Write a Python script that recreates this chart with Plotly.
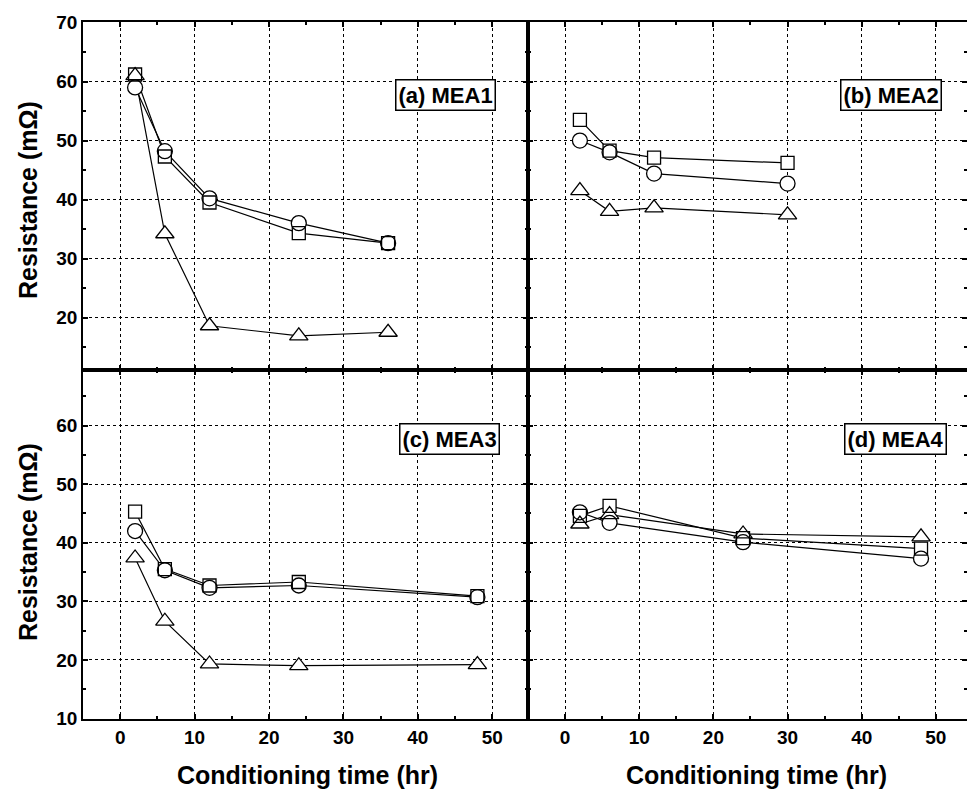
import plotly.graph_objects as go

# ---------------- data ----------------
time_a = [2, 6, 12, 24, 36]
a_square = [61.2, 47.3, 39.5, 34.3, 32.6]
a_circle = [59.0, 48.2, 40.2, 36.0, 32.6]
a_triangle = [61.0, 34.2, 18.6, 16.9, 17.5]

time_b = [2, 6, 12, 30]
b_square = [53.5, 48.3, 47.1, 46.2]
b_circle = [50.0, 48.0, 44.4, 42.7]
b_triangle = [41.5, 38.0, 38.6, 37.4]

time_c = [2, 6, 12, 24, 48]
c_square = [45.3, 35.5, 32.7, 33.3, 30.9]
c_circle = [42.0, 35.3, 32.3, 32.7, 30.7]
c_triangle = [37.4, 26.6, 19.3, 19.0, 19.2]

time_d = [2, 6, 24, 48]
d_square = [44.6, 46.3, 40.8, 39.0]
d_circle = [45.2, 43.4, 40.1, 37.3]
d_triangle = [43.2, 44.8, 41.5, 41.0]

panel_labels = ["(a) MEA1", "(b) MEA2", "(c) MEA3", "(d) MEA4"]
x_title = "Conditioning time (hr)"
y_title = "Resistance (mΩ)"

panels = [
    (time_a, a_square, a_circle, a_triangle),
    (time_b, b_square, b_circle, b_triangle),
    (time_c, c_square, c_circle, c_triangle),
    (time_d, d_square, d_circle, d_triangle),
]

symbols = ["square", "circle", "triangle-up"]
sizes = [13, 15, 16]

fig = go.Figure()
for i, (t, sq, ci, tr) in enumerate(panels):
    ax = "" if i == 0 else str(i + 1)
    series = [sq, ci, tr]
    for s in series:
        fig.add_trace(go.Scatter(x=t, y=s, mode="lines", line=dict(color="black", width=1.2),
                                 xaxis="x" + ax, yaxis="y" + ax, showlegend=False, hoverinfo="skip"))
    for s, sym, sz in zip(series, symbols, sizes):
        fig.add_trace(go.Scatter(x=t, y=s, mode="markers",
                                 marker=dict(symbol=sym, size=sz, color="white", line=dict(width=0)),
                                 xaxis="x" + ax, yaxis="y" + ax, showlegend=False, hoverinfo="skip"))
    for s, sym, sz in zip(series, symbols, sizes):
        fig.add_trace(go.Scatter(x=t, y=s, mode="markers",
                                 marker=dict(symbol=sym + "-open", size=sz, color="black",
                                             line=dict(width=1.3, color="black")),
                                 xaxis="x" + ax, yaxis="y" + ax, showlegend=False))

W, H = 967, 789
xl0, xm, xr = 83 / W, 528 / W, 1.0
yt, ym, yb = 1 - 22 / H, 1 - 370 / H, 1 - 719 / H

FONT = "Arial, Liberation Sans, sans-serif"
tickfont = dict(family=FONT, size=19, color="black", weight="bold")

def axis(domain, rng, anchor, labels):
    return dict(domain=domain, range=rng, anchor=anchor, dtick=10, tick0=0,
                showline=True, linewidth=1.6, linecolor="black", mirror="allticks",
                ticks="inside", ticklen=5, tickwidth=1.5, tickcolor="black",
                minor=dict(dtick=5, tick0=0, ticks="inside", ticklen=3, tickcolor="black", showgrid=False),
                showgrid=True, gridcolor="black", griddash="dot", gridwidth=1,
                zeroline=False, showticklabels=labels, tickfont=tickfont, automargin=False)

left_rng = [-5, 54.8]
right_rng = [-5, 54.2]
top_rng = [11.1, 70.1]
bot_rng = [9.9, 69.5]

fig.update_layout(
    width=W, height=H, margin=dict(l=0, r=0, t=0, b=0),
    paper_bgcolor="white", plot_bgcolor="white",
    xaxis=axis([xl0, xm], left_rng, "y", False),
    yaxis=axis([ym, yt], top_rng, "x", True),
    xaxis2=axis([xm, xr], right_rng, "y2", False),
    yaxis2=axis([ym, yt], top_rng, "x2", False),
    xaxis3=axis([xl0, xm], left_rng, "y3", True),
    yaxis3=axis([yb, ym], bot_rng, "x3", True),
    xaxis4=axis([xm, xr], right_rng, "y4", True),
    yaxis4=axis([yb, ym], bot_rng, "x4", False),
)

label_pos = [(445.5, 95), (891, 95), (449, 438.5), (895, 439)]
annotations = []
for txt, (px, py) in zip(panel_labels, label_pos):
    annotations.append(dict(text=txt, x=px / W, y=1 - py / H, xref="paper", yref="paper",
                            showarrow=False, xanchor="center", yanchor="middle",
                            font=dict(family=FONT, size=22, color="black", weight="bold"),
                            bordercolor="black", borderwidth=1.5, borderpad=2, bgcolor="white"))
for px in (307, 756):
    annotations.append(dict(text=x_title, x=px / W, y=1 - 775 / H, xref="paper", yref="paper",
                            showarrow=False, xanchor="center", yanchor="middle",
                            font=dict(family=FONT, size=25, color="black", weight="bold")))
for py in (200, 542):
    annotations.append(dict(text=y_title, x=28 / W, y=1 - py / H, xref="paper", yref="paper",
                            showarrow=False, xanchor="center", yanchor="middle", textangle=-90,
                            font=dict(family=FONT, size=25, color="black", weight="bold")))
fig.update_layout(annotations=annotations)

fig.write_html("out.html")
